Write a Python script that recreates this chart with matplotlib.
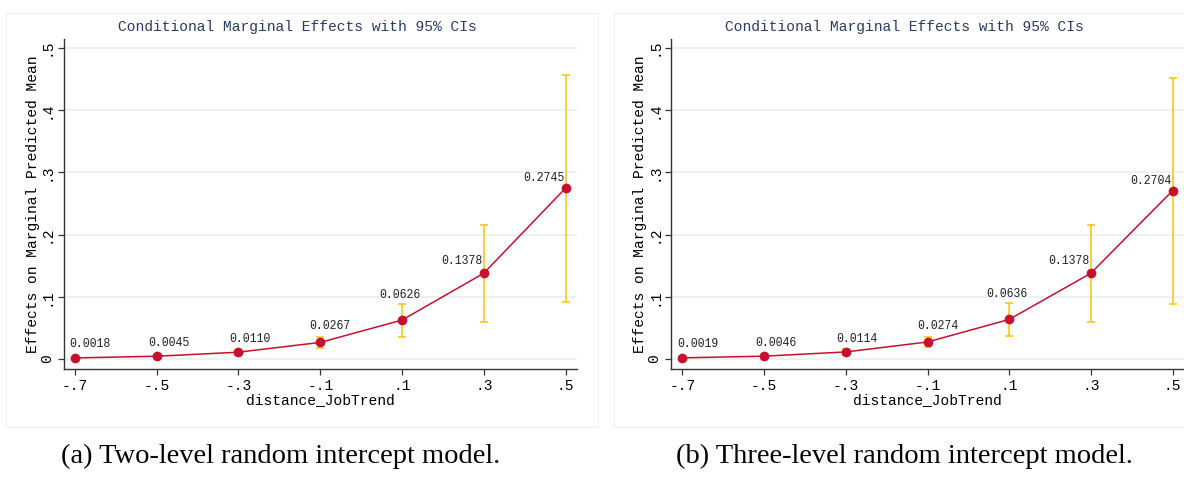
import numpy as np
import matplotlib
matplotlib.use('Agg')
import matplotlib.pyplot as plt
from matplotlib.patches import Rectangle

# distance_JobTrend grid and marginal effects for both models
x_vals = [-0.7, -0.5, -0.3, -0.1, 0.1, 0.3, 0.5]
x_ticklabels = ['-.7', '-.5', '-.3', '-.1', '.1', '.3', '.5']
y_ticks = [0, 0.1, 0.2, 0.3, 0.4, 0.5]
y_ticklabels = ['0', '.1', '.2', '.3', '.4', '.5']

two_level_est = [0.0018, 0.0045, 0.0110, 0.0267, 0.0626, 0.1378, 0.2745]
two_level_lo = [0.0010, 0.0027, 0.0068, 0.0184, 0.0360, 0.0598, 0.0920]
two_level_hi = [0.0026, 0.0063, 0.0152, 0.0350, 0.0890, 0.2156, 0.4560]

three_level_est = [0.0019, 0.0046, 0.0114, 0.0274, 0.0636, 0.1378, 0.2704]
three_level_lo = [0.0011, 0.0028, 0.0071, 0.0189, 0.0370, 0.0596, 0.0890]
three_level_hi = [0.0027, 0.0064, 0.0157, 0.0359, 0.0900, 0.2160, 0.4510]

captions = ['(a) Two-level random intercept model.',
            '(b) Three-level random intercept model.']
title = 'Conditional Marginal Effects with 95% CIs'
xlabel = 'distance_JobTrend'
ylabel = 'Effects on Marginal Predicted Mean'

# label offsets in pixels (dx, dy) relative to each marker
lab_dx = [15, 12, 11, 10, -2, -22, -22]
lab_dy = [14, 13, 13, 16, 25, 12, 10]

MONO = ['Liberation Mono', 'DejaVu Sans Mono']
RED = '#c8102e'
GOLD = '#ffc61a'
GRID = '#e8f0f2'

W, H = 1184, 479
fig = plt.figure(figsize=(W / 100, H / 100), dpi=100)


def px(x0, y0, x1, y1):
    return [x0 / W, 1 - y1 / H, (x1 - x0) / W, (y1 - y0) / H]


def panel(rect, est, lo, hi, cap, cap_x, title_x, frame):
    # faint outer frame of the graph region
    fig.patches.append(Rectangle((frame[0] / W, 1 - frame[3] / H),
                                 (frame[2] - frame[0]) / W, (frame[3] - frame[1]) / H,
                                 transform=fig.transFigure, fill=False,
                                 edgecolor='#f0f0f0', lw=0.8))
    ax = fig.add_axes(px(*rect))
    ax.set_xlim(-0.728, 0.528)
    ax.set_ylim(-0.016, 0.514)
    for t in y_ticks:
        ax.axhline(t, color=GRID, lw=1.2, zorder=0)
    est = np.array(est)
    yerr = [est - np.array(lo), np.array(hi) - est]
    ax.errorbar(x_vals, est, yerr=yerr, fmt='none', ecolor=GOLD,
                elinewidth=1.2, capsize=3.2, capthick=1.2, zorder=2)
    ax.plot(x_vals, est, color=RED, lw=1.1, marker='o', ms=6,
            mfc=RED, mec=RED, zorder=3)
    for xv, v, dx, dy in zip(x_vals, est, lab_dx, lab_dy):
        ax.annotate(f'{v:.4f}', (xv, v), xytext=(dx, dy),
                    textcoords='offset pixels', ha='center', va='center',
                    fontsize=8.3, family=MONO, color='#222222')
    for s in ['top', 'right']:
        ax.spines[s].set_visible(False)
    for s in ['left', 'bottom']:
        ax.spines[s].set_color('#333333')
        ax.spines[s].set_linewidth(1.0)
    ax.set_xticks(x_vals)
    ax.set_xticklabels(x_ticklabels, family=MONO, fontsize=10.5)
    ax.set_yticks(y_ticks)
    ax.set_yticklabels(y_ticklabels, family=MONO, fontsize=10.5,
                       rotation=90, va='center')
    ax.tick_params(length=4, width=0.9, color='#333333', pad=3)
    ax.set_xlabel(xlabel, family=MONO, fontsize=10.5, labelpad=0)
    ax.set_ylabel(ylabel, family=MONO, fontsize=10.5, labelpad=0)
    fig.text(title_x / W, 1 - 27 / H, title, ha='center', va='center',
             family=MONO, fontsize=10.5, color='#2a3a66')
    fig.text(cap_x / W, 1 - 456 / H, cap, ha='center', va='center',
             family=['Liberation Serif', 'DejaVu Serif'], fontsize=20.5)
    return ax


panel((63.5, 39, 577, 369), two_level_est, two_level_lo, two_level_hi,
      captions[0], 281, 297, (6, 13, 598, 427))
panel((671, 39, 1184, 369), three_level_est, three_level_lo, three_level_hi,
      captions[1], 904, 904, (614, 13, 1190, 427))

fig.savefig('out.png', dpi=100, facecolor='white')
